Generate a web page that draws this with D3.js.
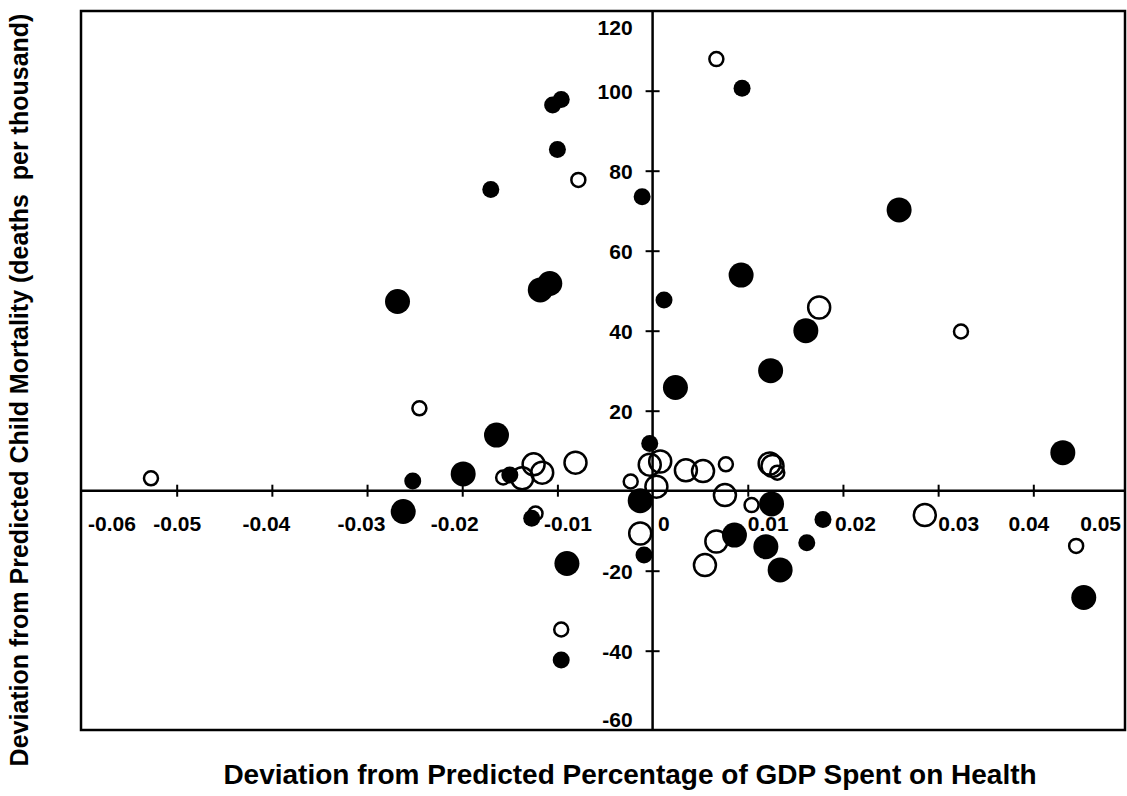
<!DOCTYPE html>
<html>
<head>
<meta charset="utf-8">
<script src="https://cdn.jsdelivr.net/npm/d3@7"></script>
<style>
  body { margin: 0; background: #fff; }
  svg { display: block; }
</style>
</head>
<body>
<div id="chart"></div>
<script>
// filled circles
var filledX = [-0.0105, -0.0096, -0.0100, -0.0170, -0.0011, 0.0094, 0.0259, -0.0268, -0.0118, -0.0108,
               0.0093, 0.0012, 0.0161, 0.0124, 0.0024, -0.0164, -0.0003, -0.0199, -0.0150, -0.0252,
               -0.0262, 0.0431, -0.0127, -0.0090, -0.0096, -0.0013, -0.0009, 0.0125, 0.0086, 0.0119,
               0.0134, 0.0162, 0.0179, 0.0453];
var filledY = [96.4, 97.8, 85.3, 75.3, 73.5, 100.6, 70.2, 47.3, 50.2, 51.8,
               53.9, 47.7, 40.0, 30.0, 25.8, 13.9, 11.8, 4.2, 3.9, 2.4,
               -5.2, 9.5, -6.9, -18.2, -42.3, -2.5, -16.1, -3.3, -11.1, -14.0,
               -19.8, -13.0, -7.2, -26.7];
var filledSize = ["S", "S", "S", "S", "S", "S", "L", "L", "L", "L",
                  "L", "S", "L", "L", "L", "L", "S", "L", "S", "S",
                  "L", "L", "S", "L", "S", "L", "S", "L", "L", "L",
                  "L", "S", "S", "L"];

// open circles
var openX = [0.0067, -0.0078, 0.0175, 0.0324, -0.0245, -0.0527, -0.0157, -0.0137, -0.0125, -0.0116,
             -0.0081, -0.0023, -0.0003, 0.0008, 0.0004, 0.0035, 0.0053, 0.0077, 0.0123, 0.0126,
             0.0131, 0.0076, 0.0104, -0.0123, -0.0013, -0.0096, 0.0067, 0.0055, 0.0286, 0.0445];
var openY = [107.9, 77.7, 45.8, 39.8, 20.6, 3.1, 3.3, 3.1, 6.6, 4.5,
             7.0, 2.3, 6.5, 7.3, 1.0, 5.1, 4.9, 6.6, 6.8, 6.2,
             4.5, -1.1, -3.6, -5.7, -10.7, -34.7, -12.7, -18.6, -6.1, -13.8];
var openSize = ["S", "S", "L", "S", "S", "S", "S", "L", "L", "L",
                "L", "S", "L", "L", "L", "L", "L", "S", "L", "L",
                "S", "L", "S", "S", "L", "S", "L", "L", "L", "S"];

var xTicks = [-0.06, -0.05, -0.04, -0.03, -0.02, -0.01, 0, 0.01, 0.02, 0.03, 0.04, 0.05];
var yTicks = [120, 100, 80, 60, 40, 20, -20, -40, -60];

var xTitle = "Deviation from Predicted Percentage of GDP Spent on Health";
var yTitle = "Deviation from Predicted Child Mortality (deaths  per thousand)";

var width = 1127, height = 796;
var frame = {left: 81, right: 1125, top: 11, bottom: 730};

var svg = d3.select("#chart").append("svg")
    .attr("width", width)
    .attr("height", height);

var x = d3.scaleLinear().domain([-0.06, 0.05]).range([81.5, 1128.5]);
var y = d3.scaleLinear().domain([-60, 120]).range([730.7, 10.7]);
var r = d3.scaleOrdinal().domain(["S", "L"]).range([8.5, 12.5]);

var font = "'Liberation Sans', Arial, Helvetica, sans-serif";

// 枠
svg.append("rect")
    .attr("x", frame.left)
    .attr("y", frame.top)
    .attr("width", frame.right - frame.left)
    .attr("height", frame.bottom - frame.top)
    .attr("fill", "none")
    .attr("stroke", "#000")
    .attr("stroke-width", 2.5);

// x軸 (y = 0)
var xShift = {"-0.06": 6, "-0.04": -6, "-0.03": -6, "-0.02": -8, "-0.01": 10, "0": 5,
              "0.01": 20, "0.02": 12, "0.03": 20, "0.04": -5, "0.05": -8};
var xAxis = svg.append("g")
    .attr("transform", "translate(0," + y(0) + ")")
    .call(d3.axisBottom(x).tickValues(xTicks).tickSize(6).tickFormat(function(d){ return String(d); }));
xAxis.select(".domain").remove();
xAxis.selectAll(".tick line")
    .attr("y1", -6).attr("y2", 6)
    .attr("stroke-width", 2)
    .style("display", function(d){ return (d === 0 || d === -0.06 || d === 0.05) ? "none" : null; });
xAxis.selectAll(".tick text")
    .attr("y", 40).attr("dy", 0)
    .attr("dx", function(d){ return xShift[String(d)] || 0; })
    .attr("text-anchor", function(d){
        if (d === -0.06 || d === 0) return "start";
        if (d === 0.05) return "end";
        return "middle";
    })
    .style("font-family", font).style("font-size", "21px").style("font-weight", "bold").attr("fill", "#000");
svg.append("line")
    .attr("x1", frame.left).attr("x2", frame.right)
    .attr("y1", y(0)).attr("y2", y(0))
    .attr("stroke", "#000").attr("stroke-width", 2.5);

// y軸 (x = 0)
var yAxis = svg.append("g")
    .attr("transform", "translate(" + x(0) + ",0)")
    .call(d3.axisLeft(y).tickValues(yTicks).tickSize(7).tickFormat(function(d){ return String(d); }));
yAxis.select(".domain").remove();
yAxis.selectAll(".tick line")
    .attr("x1", -7).attr("x2", 7)
    .attr("stroke-width", 2)
    .style("display", function(d){ return (d === 120 || d === -60) ? "none" : null; });
yAxis.selectAll(".tick text")
    .attr("x", -20)
    .attr("dy", function(d){ return d === 120 ? "1.15em" : (d === -60 ? "-0.2em" : "0.36em"); })
    .style("font-family", font).style("font-size", "21px").style("font-weight", "bold").attr("fill", "#000");
svg.append("line")
    .attr("x1", x(0)).attr("x2", x(0))
    .attr("y1", frame.top).attr("y2", frame.bottom)
    .attr("stroke", "#000").attr("stroke-width", 2.5);

// 黒丸
var filled = filledX.map(function(d, i){ return {x: d, y: filledY[i], s: filledSize[i]}; });
svg.append("g").selectAll("circle")
    .data(filled)
    .enter()
    .append("circle")
    .attr("cx", function(d){ return x(d.x); })
    .attr("cy", function(d){ return y(d.y); })
    .attr("r", function(d){ return r(d.s); })
    .attr("fill", "#000");

// 白丸
var open = openX.map(function(d, i){ return {x: d, y: openY[i], s: openSize[i]}; });
svg.append("g").selectAll("circle")
    .data(open)
    .enter()
    .append("circle")
    .attr("cx", function(d){ return x(d.x); })
    .attr("cy", function(d){ return y(d.y); })
    .attr("r", function(d){ return r(d.s) - 1.5; })
    .attr("fill", "none")
    .attr("stroke", "#000")
    .attr("stroke-width", 2.5);

// 軸タイトル
svg.append("text")
    .attr("x", 630).attr("y", 784)
    .attr("text-anchor", "middle")
    .style("font-family", font).style("font-size", "28px").style("font-weight", "bold")
    .style("white-space", "pre")
    .text(xTitle);

svg.append("text")
    .attr("transform", "translate(28,390) rotate(-90)")
    .attr("text-anchor", "middle")
    .style("font-family", font).style("font-size", "25px").style("font-weight", "bold")
    .style("white-space", "pre")
    .text(yTitle);
</script>
</body>
</html>
